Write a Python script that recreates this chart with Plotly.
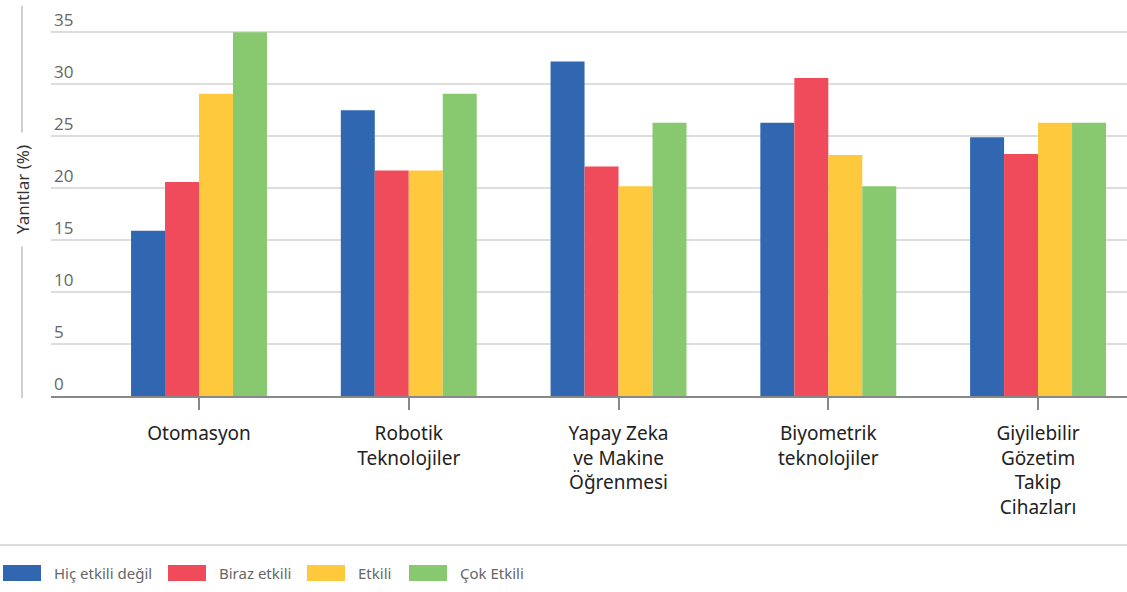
import plotly.graph_objects as go

# Categories and survey responses (%)
categories = [
    "Otomasyon",
    "Robotik<br>Teknolojiler",
    "Yapay Zeka<br>ve Makine<br>Öğrenmesi",
    "Biyometrik<br>teknolojiler",
    "Giyilebilir<br>Gözetim<br>Takip<br>Cihazları",
]
series_names = ["Hiç etkili değil", "Biraz etkili", "Etkili", "Çok Etkili"]
hic_etkili_degil = [15.9, 27.5, 32.2, 26.3, 24.9]
biraz_etkili = [20.6, 21.7, 22.1, 30.6, 23.3]
etkili = [29.1, 21.7, 20.2, 23.2, 26.3]
cok_etkili = [35.0, 29.1, 26.3, 20.2, 26.3]
y_ticks = [0, 5, 10, 15, 20, 25, 30, 35]

colors = ["#3167B1", "#F04B5B", "#FEC93C", "#88C970"]
series_values = [hic_etkili_degil, biraz_etkili, etkili, cok_etkili]

W, H = 1127, 592
ML, MR, MT, MB = 51, 0, 4, 196
plot_w = W - ML - MR
plot_h = H - MT - MB


def px_x(px):
    return (px - ML) / plot_w


def px_y(py):
    return (H - MB - py) / plot_h


fig = go.Figure()
for name, vals, col in zip(series_names, series_values, colors):
    fig.add_trace(go.Bar(
        x=list(range(len(categories))), y=vals, name=name,
        marker=dict(color=col, line=dict(width=0)),
        showlegend=False,
    ))

shapes = []
annotations = []

# Left axis rule with the title sitting on it
shapes.append(dict(type="line", xref="paper", yref="paper",
                   x0=px_x(22), x1=px_x(22), y0=px_y(6), y1=px_y(398),
                   line=dict(color="#d0d0d0", width=2)))
annotations.append(dict(text="Yanıtlar (%)", xref="paper", yref="paper",
                        x=px_x(22), y=px_y(190), textangle=-90,
                        xanchor="center", yanchor="middle",
                        showarrow=False, bgcolor="white", borderpad=12,
                        font=dict(family="Noto Sans", size=17, color="#333333")))

# Divider above the legend
shapes.append(dict(type="line", xref="paper", yref="paper",
                   x0=px_x(0), x1=px_x(W), y0=px_y(545), y1=px_y(545),
                   line=dict(color="#dddddd", width=2)))

# Legend swatches and labels
legend_swatch_x = [3, 168, 307, 409]
for sx, name, col in zip(legend_swatch_x, series_names, colors):
    shapes.append(dict(type="rect", xref="paper", yref="paper",
                       x0=px_x(sx), x1=px_x(sx + 38), y0=px_y(581), y1=px_y(565),
                       fillcolor=col, line=dict(width=0)))
    annotations.append(dict(text=name, xref="paper", yref="paper",
                            x=px_x(sx + 49), y=px_y(573), xanchor="left",
                            yanchor="middle", showarrow=False,
                            font=dict(family="Noto Sans", size=15, color="#666666")))

fig.update_layout(
    width=W, height=H,
    margin=dict(l=ML, r=MR, t=MT, b=MB),
    paper_bgcolor="white", plot_bgcolor="white",
    barmode="group", bargap=0.352, bargroupgap=0,
    shapes=shapes, annotations=annotations,
    xaxis=dict(
        tickmode="array", tickvals=list(range(len(categories))), ticktext=categories,
        range=[-0.7056, 4.424],
        showline=True, linecolor="#888888", linewidth=2,
        ticks="outside", ticklen=12, tickwidth=2, tickcolor="#888888",
        ticklabelstandoff=7,
        tickfont=dict(family="Noto Sans", size=19, color="#222222"),
        showgrid=False, zeroline=False, fixedrange=True,
    ),
    yaxis=dict(
        range=[0, 37.73], tickmode="array", tickvals=y_ticks,
        ticklabelposition="inside top",
        tickfont=dict(family="Open Sans", size=17, color="#666666"),
        showgrid=True, gridcolor="#dddddd", gridwidth=2,
        zeroline=False, showline=False, ticks="", fixedrange=True,
    ),
)

fig.write_html("out.html")
